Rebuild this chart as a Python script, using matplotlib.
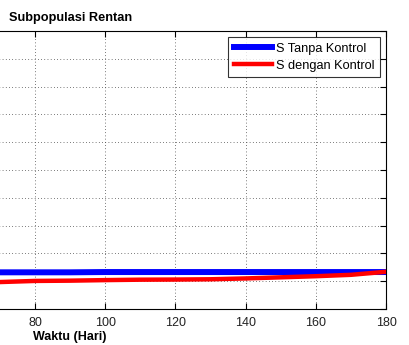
import numpy as np
import matplotlib
matplotlib.use('Agg')
import matplotlib.pyplot as plt

plt.rcParams['font.family'] = ['Liberation Sans', 'DejaVu Sans']

# time axis (days) and susceptible subpopulation
waktu = [0, 10, 20, 30, 40, 50, 60, 70, 80, 90, 100, 110, 120, 130, 140, 150, 160, 170, 180]
s_tanpa = [132, 132, 132, 132, 132, 132, 132, 132, 132, 132, 133, 133, 133, 133, 133, 133, 133, 133, 133]
s_dengan = [120, 110, 103, 98, 95, 94, 95, 97, 101, 102, 104, 105.5, 106, 107, 110, 114, 118, 123, 134]

x_ticks = list(range(0, 181, 20))
x_labels = ['', '', '', '', '80', '100', '120', '140', '160', '180']
y_ticks = list(range(0, 1001, 100))

fig = plt.figure(figsize=(4.10, 3.45), dpi=100)
fig.patch.set_facecolor('white')
# axes runs off the left edge of the canvas
ax = fig.add_axes([-0.5995, 0.1043, 1.541, 0.8058])

ax.plot(waktu, s_tanpa, color='#0000ff', lw=4.3, label='S Tanpa Kontrol', zorder=3)
ax.plot(waktu, s_dengan, color='#ff0000', lw=3.2, label='S dengan Kontrol', zorder=4)

ax.set_xlim(0, 180)
ax.set_ylim(0, 1000)
ax.set_xticks(x_ticks)
ax.set_xticklabels(x_labels)
ax.set_yticks(y_ticks)
ax.set_yticklabels([])
ax.grid(True, linestyle=(0, (0.7, 2.6)), color='#444444', linewidth=0.7)
ax.tick_params(direction='in', length=4, width=0.8, top=True, right=True,
               labelsize=9, pad=6, colors='black')
ax.tick_params(axis='x', labelcolor='#222222')
for s in ax.spines.values():
    s.set_linewidth(0.8)

ax.set_title('Subpopulasi Rentan', fontsize=9.2, fontweight='bold', pad=7)
ax.set_xlabel('Waktu (Hari)', fontsize=9, fontweight='bold', labelpad=1)

leg = ax.legend(loc='upper right', fontsize=9.2, frameon=True, fancybox=False,
                edgecolor='black', handlelength=3.0, borderaxespad=0.45,
                labelspacing=0.4, handletextpad=0.3, borderpad=0.45)
leg.get_frame().set_linewidth(0.8)

fig.savefig('out.png', dpi=100, facecolor='white')
